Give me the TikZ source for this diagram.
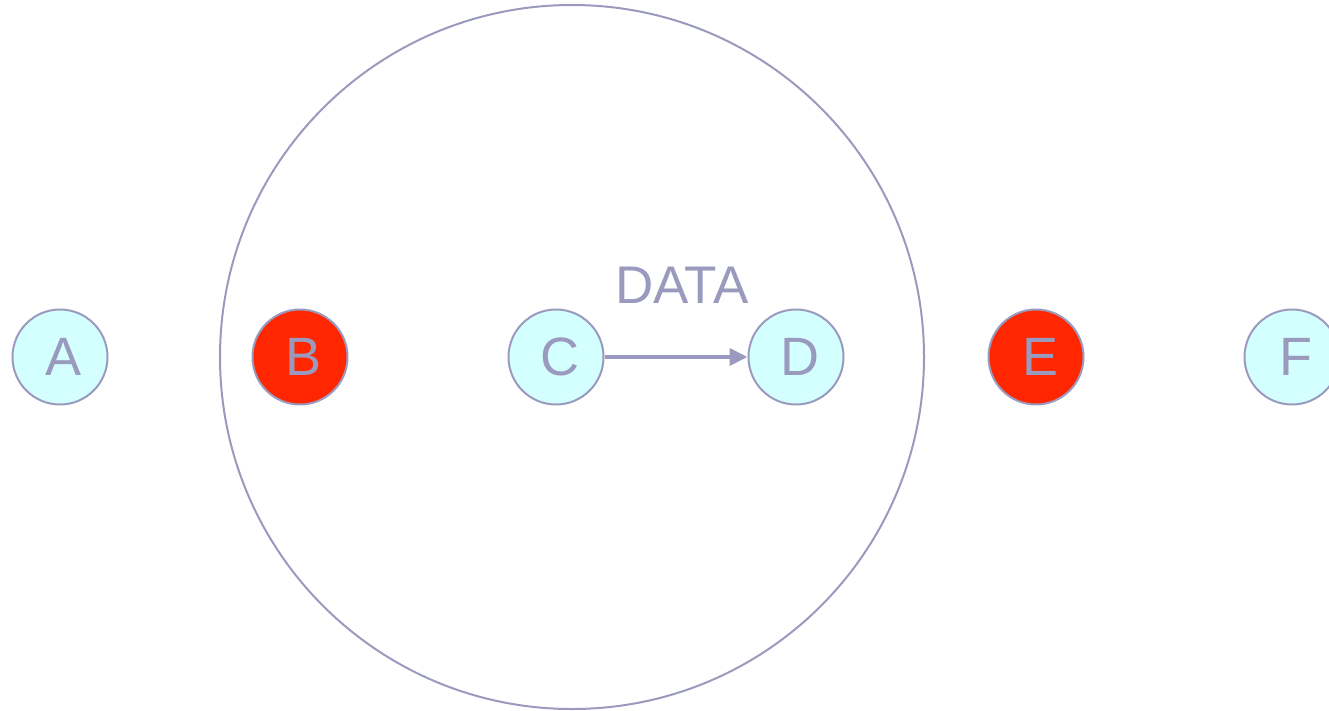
\documentclass[tikz,border=0pt]{standalone}
\usepackage{fontspec}
\setmainfont{Liberation Sans}
\usetikzlibrary{arrows.meta}
\definecolor{edgec}{HTML}{9A9ABE}
\definecolor{nodefill}{HTML}{D4FFFF}
\definecolor{redfill}{HTML}{FF2600}
\newcommand{\peerlabel}[1]{\hspace*{8pt}#1}
\begin{document}
\begin{tikzpicture}[x=1pt,y=-1pt,
  peer/.style={circle,draw=edgec,line width=2pt,fill=nodefill,minimum size=95pt,inner sep=0pt,text=edgec,font=\fontsize{54}{60}\selectfont},
  badpeer/.style={peer,fill=redfill},
  flow/.style={draw=edgec,line width=4pt,-{Triangle[length=18pt,width=17pt]}}]
\useasboundingbox (0,0) rectangle (1329,710);
\clip (0,0) rectangle (1329,710);
\node[circle,draw=edgec,line width=2pt,minimum size=704pt,inner sep=0pt] (ring) at (572,357) {};
\node[peer] (A) at (60,357) {\peerlabel{A}};
\node[badpeer] (B) at (300,357) {\peerlabel{B}};
\node[peer] (C) at (556,357) {\peerlabel{C}};
\node[peer] (D) at (796,357) {\peerlabel{D}};
\node[badpeer] (E) at (1036,357) {\peerlabel{E}};
\node[peer] (F) at (1292,357) {\peerlabel{F}};
\draw[flow] (C) -- (D);
\node[anchor=base,text=edgec,font=\fontsize{53}{60}\selectfont,inner sep=0pt] (lbl) at (682,303) {DATA};
\end{tikzpicture}
\end{document}
